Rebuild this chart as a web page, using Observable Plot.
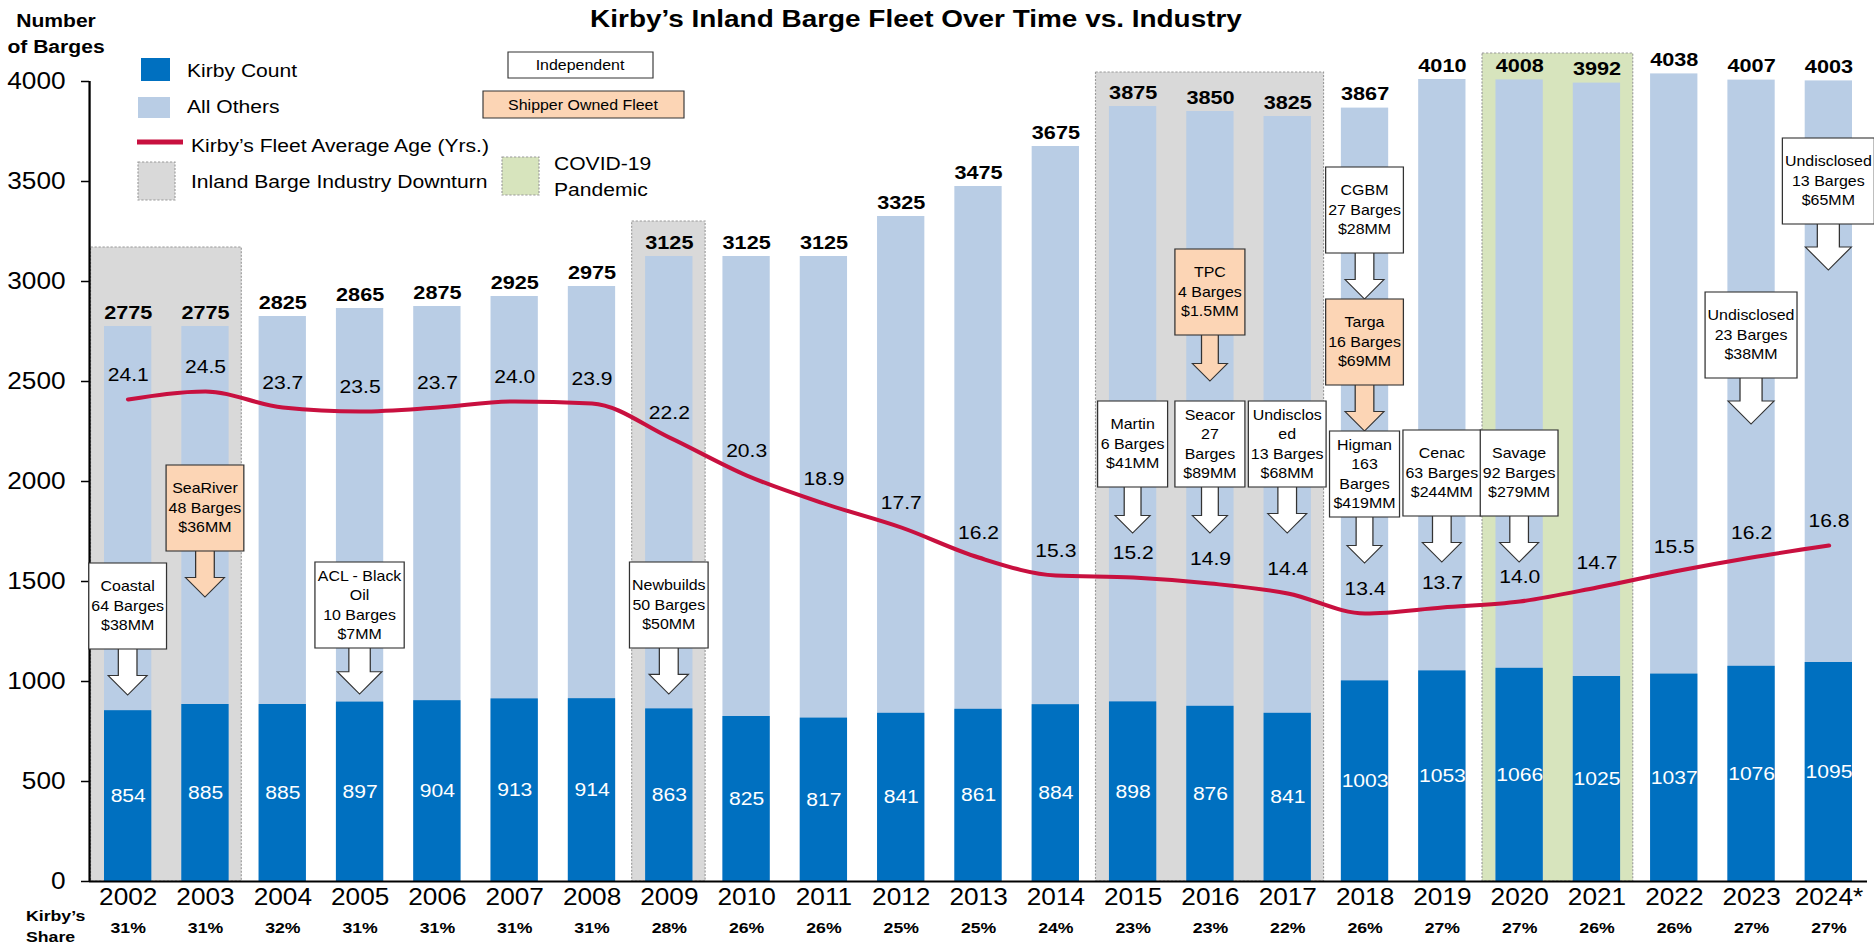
<!DOCTYPE html>
<html><head><meta charset="utf-8">
<script src="https://cdn.jsdelivr.net/npm/d3@7"></script>
<script src="https://cdn.jsdelivr.net/npm/@observablehq/plot@0.6"></script>
<style>
body{margin:0;background:#fff;}
#chart{position:relative;width:1874px;height:947px;overflow:hidden;}
</style></head><body><div id="chart"></div>
<script>
// ---------- data ----------
const years = [2002,2003,2004,2005,2006,2007,2008,2009,2010,2011,2012,2013,2014,2015,2016,2017,2018,2019,2020,2021,2022,2023,2024];
const yearLabels = ["2002","2003","2004","2005","2006","2007","2008","2009","2010","2011","2012","2013","2014","2015","2016","2017","2018","2019","2020","2021","2022","2023","2024*"];
const totalFleet = [2775,2775,2825,2865,2875,2925,2975,3125,3125,3125,3325,3475,3675,3875,3850,3825,3867,4010,4008,3992,4038,4007,4003];
const kirbyCount = [854,885,885,897,904,913,914,863,825,817,841,861,884,898,876,841,1003,1053,1066,1025,1037,1076,1095];
const fleetAge = [24.1,24.5,23.7,23.5,23.7,24.0,23.9,22.2,20.3,18.9,17.7,16.2,15.3,15.2,14.9,14.4,13.4,13.7,14.0,14.7,15.5,16.2,16.8];
const kirbyShare = [31,31,32,31,31,31,31,28,26,26,25,25,24,23,23,22,26,27,27,26,26,27,27];
const yTicks = [0,500,1000,1500,2000,2500,3000,3500,4000];
// shaded periods (top = height of the shaded box on the barge axis)
const downturns = [{from:2002,to:2003,top:3170},{from:2009,to:2009,top:3300},{from:2015,to:2017,top:4045}];
const pandemic = [{from:2020,to:2021,top:4140}];
// acquisitions: tip = barge-axis value the arrow points to
const deals = [
  {year:2002, kind:"independent", lines:["Coastal","64 Barges","$38MM"], tip:930},
  {year:2003, kind:"shipper", lines:["SeaRiver","48 Barges","$36MM"], tip:1420},
  {year:2005, kind:"independent", lines:["ACL - Black","Oil","10 Barges","$7MM"], tip:935},
  {year:2009, kind:"independent", lines:["Newbuilds","50 Barges","$50MM"], tip:935},
  {year:2015, kind:"independent", lines:["Martin","6 Barges","$41MM"], tip:1740},
  {year:2016, kind:"shipper", lines:["TPC","4 Barges","$1.5MM"], tip:2500},
  {year:2016, kind:"independent", lines:["Seacor","27","Barges","$89MM"], tip:1740},
  {year:2017, kind:"independent", lines:["Undisclos","ed","13 Barges","$68MM"], tip:1740},
  {year:2018, kind:"independent", lines:["CGBM","27 Barges","$28MM"], tip:2910},
  {year:2018, kind:"shipper", lines:["Targa","16 Barges","$69MM"], tip:2250},
  {year:2018, kind:"independent", lines:["Higman","163","Barges","$419MM"], tip:1590},
  {year:2019, kind:"independent", lines:["Cenac","63 Barges","$244MM"], tip:1595},
  {year:2020, kind:"independent", lines:["Savage","92 Barges","$279MM"], tip:1595},
  {year:2023, kind:"independent", lines:["Undisclosed","23 Barges","$38MM"], tip:2285},
  {year:2024, kind:"independent", lines:["Undisclosed","13 Barges","$65MM"], tip:3055}
];
const AGE_FACTOR = 100; // age (yrs) drawn against the barge axis ×100

// ---------- style ----------
const FONT = '"Liberation Sans", Arial, sans-serif';
const C = {dark:"#0070C0", light:"#B9CDE5", gray:"#D9D9D9", green:"#D7E4BD", line:"#C8103F", peach:"#FCD5B5", box:"#333333", border:"#9A9A9A"};
const SX = 1.14;            // horizontal stretch of the original slide
const W = 1874 / SX;
const px = v => v / SX;     // screen px -> drawing units (horizontal)

const data = years.map((year,i) => ({year, label:yearLabels[i], total:totalFleet[i], kirby:kirbyCount[i], age:fleetAge[i], share:kirbyShare[i]}));

const ctx = document.createElement("canvas").getContext("2d");
ctx.font = `14px ${FONT}`;
const measure = s => ctx.measureText(s).width;

function calloutMark(index, scales) {
  const g = d3.create("svg:g").attr("font-family", FONT).attr("font-size", 14).attr("text-anchor","middle");
  for (const d of deals) {
    const cx = scales.x(d.year), tip = scales.y(d.tip);
    const wScreen = Math.max(d3.max(d.lines, measure) * SX + 5, 70);
    const w = px(wScreen);
    const top = tip - 132, bot = tip - 46;
    const hw = w / 4, sw = w * 0.12, hh = wScreen / 4;
    const fill = d.kind === "shipper" ? C.peach : "#fff";
    g.append("path")
      .attr("d", `M${cx-sw},${bot}V${tip-hh}H${cx-hw}L${cx},${tip}L${cx+hw},${tip-hh}H${cx+sw}V${bot}`)
      .attr("fill", fill).attr("stroke", C.box).attr("stroke-width", 1.1);
    g.append("rect").attr("x", cx - w/2).attr("y", top).attr("width", w).attr("height", bot - top)
      .attr("fill", fill).attr("stroke", C.box).attr("stroke-width", 1.1);
    const cy = (top + bot) / 2, n = d.lines.length;
    d.lines.forEach((s, i) => g.append("text").attr("x", cx).attr("y", cy + (i - (n-1)/2) * 19.5).attr("dy","0.35em").text(s));
  }
  return g.node();
}

const regionOpts = (fill) => ({x1: d => d.from - 0.48, x2: d => d.to + 0.47, y1: 0, y2: "top", fill, stroke: C.border, strokeWidth: 1, strokeDasharray: "2,1.5"});

const chart = Plot.plot({
  width: W, height: 947,
  marginLeft: px(89), marginRight: px(7), marginTop: 81, marginBottom: 66,
  x: {domain: [2001.5, 2024.5]},
  y: {domain: [0, 4000]},
  style: {fontFamily: FONT, fontSize: "23px", color: "#000", background: "#fff"},
  marks: [
    Plot.rect(downturns, regionOpts(C.gray)),
    Plot.rect(pandemic, regionOpts(C.green)),
    Plot.rect(data, {x1: d => d.year - 0.5, x2: d => d.year + 0.5, y1: 0, y2: "total", insetLeft: px(15), insetRight: px(15), fill: C.light}),
    Plot.rect(data, {x1: d => d.year - 0.5, x2: d => d.year + 0.5, y1: 0, y2: "kirby", insetLeft: px(15), insetRight: px(15), fill: C.dark}),
    Plot.axisY({ticks: yTicks, tickFormat: d => String(d), tickSize: px(8), tickPadding: px(16), fontSize: 23, strokeWidth: 1.5, label: null}),
    Plot.axisX({ticks: years, tickFormat: y => yearLabels[years.indexOf(y)], tickSize: 0, tickPadding: 7, fontSize: 23, label: null}),
    Plot.ruleX([2001.5], {y1: 0, y2: 4000, stroke: "#000", strokeWidth: 2}),
    Plot.ruleY([0], {stroke: "#000", strokeWidth: 2}),
    Plot.line(data, {x: "year", y: d => d.age * AGE_FACTOR, stroke: C.line, strokeWidth: 4, curve: "monotone-x"}),
    Plot.text(data, {x: "year", y: d => d.age * AGE_FACTOR, text: d => d.age.toFixed(1), dy: -24, fontSize: 18.5, fill: "#000"}),
    Plot.text(data, {x: "year", y: "total", text: d => String(d.total), dy: -14, fontSize: 19, fontWeight: "bold", fill: "#000"}),
    Plot.text(data, {x: "year", y: d => d.kirby / 2, text: d => String(d.kirby), fontSize: 18.5, fill: "#fff"}),
    Plot.text(data, {x: "year", text: d => d.share + "%", frameAnchor: "bottom", dy: 51, fontSize: 15.5, fontWeight: "bold", fill: "#000"}),
    calloutMark
  ]
});

// stretch horizontally like the original slide
chart.setAttribute("width", 1874);
chart.setAttribute("height", 947);
chart.setAttribute("preserveAspectRatio", "none");
chart.style.width = "1874px"; chart.style.height = "947px"; chart.style.maxWidth = "none";

// ---------- title, axis captions, legend ----------
const svg = d3.select(chart);
const ann = svg.append("g").attr("font-family", FONT).attr("fill", "#000");
const txt = (x, y, s, size, weight, anchor) => ann.append("text").attr("x", px(x)).attr("y", y).attr("dy","0.35em")
  .attr("font-size", size).attr("font-weight", weight || "normal").attr("text-anchor", anchor || "start").text(s);

txt(916, 18, "Kirby’s Inland Barge Fleet Over Time vs. Industry", 24.5, "bold", "middle");
txt(56, 21, "Number", 18.5, "bold", "middle");
txt(56, 47, "of Barges", 18.5, "bold", "middle");
txt(26, 916, "Kirby’s", 15.5, "bold", "start");
txt(26, 937, "Share", 15.5, "bold", "start");

const box = (x, y, w, h, fill, stroke, dash) => ann.append("rect").attr("x", px(x)).attr("y", y).attr("width", px(w)).attr("height", h)
  .attr("fill", fill).attr("stroke", stroke || "none").attr("stroke-width", 1).attr("stroke-dasharray", dash || null);

box(141, 58, 29, 23, C.dark);
txt(187, 71, "Kirby Count", 18.5);
box(138, 97, 32, 21, C.light);
txt(187, 107, "All Others", 18.5);
ann.append("line").attr("x1", px(137)).attr("x2", px(183)).attr("y1", 142).attr("y2", 142).attr("stroke", C.line).attr("stroke-width", 5);
txt(191, 146, "Kirby’s Fleet Average Age (Yrs.)", 18.5);
box(138, 162, 37, 38, C.gray, C.border, "2,1.5");
txt(191, 182, "Inland Barge Industry Downturn", 18.5);
box(502, 157, 37, 38, C.green, C.border, "2,1.5");
txt(554, 164, "COVID-19", 18.5);
txt(554, 190, "Pandemic", 18.5);
box(508, 52, 145, 26, "#fff", C.box);
txt(580, 65, "Independent", 14, "normal", "middle");
box(483, 91, 201, 27, C.peach, C.box);
txt(583, 105, "Shipper Owned Fleet", 14, "normal", "middle");

document.getElementById("chart").appendChild(chart);
</script>
</body></html>
